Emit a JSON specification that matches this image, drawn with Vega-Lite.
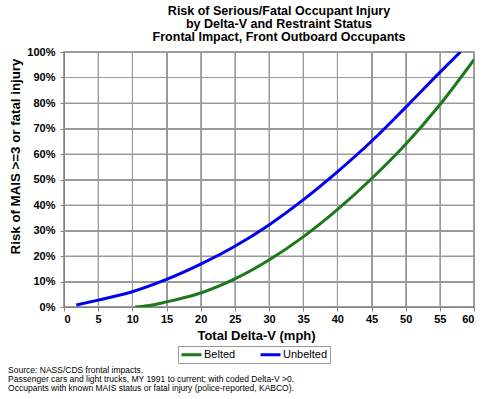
{
  "$schema": "https://vega.github.io/schema/vega-lite/v6.json",
  "padding": {"left": 8, "top": 4, "right": 10, "bottom": 2},
  "background": "white",
  "title": {
    "text": ["Source: NASS/CDS frontal impacts.", "Passenger cars and light trucks, MY 1991 to current; with coded Delta-V >0.", "Occupants with known MAIS status or fatal injury (police-reported, KABCO)."],
    "orient": "bottom",
    "anchor": "start",
    "font": "Liberation Sans",
    "fontSize": 8.5,
    "fontWeight": "normal",
    "lineHeight": 9,
    "color": "#000000",
    "offset": 2
  },
  "datasets": {
    "curves": [
      {"series": "Belted", "dv": 10.4, "risk": 0.0},
      {"series": "Belted", "dv": 12.5, "risk": 0.006},
      {"series": "Belted", "dv": 15, "risk": 0.02},
      {"series": "Belted", "dv": 17.5, "risk": 0.036},
      {"series": "Belted", "dv": 20, "risk": 0.055},
      {"series": "Belted", "dv": 25, "risk": 0.11},
      {"series": "Belted", "dv": 30, "risk": 0.184},
      {"series": "Belted", "dv": 35, "risk": 0.275},
      {"series": "Belted", "dv": 40, "risk": 0.382},
      {"series": "Belted", "dv": 45, "risk": 0.503},
      {"series": "Belted", "dv": 50, "risk": 0.638},
      {"series": "Belted", "dv": 55, "risk": 0.793},
      {"series": "Belted", "dv": 60, "risk": 0.97},
      {"series": "Unbelted", "dv": 1.8, "risk": 0.008},
      {"series": "Unbelted", "dv": 5, "risk": 0.027},
      {"series": "Unbelted", "dv": 10, "risk": 0.06},
      {"series": "Unbelted", "dv": 15, "risk": 0.108},
      {"series": "Unbelted", "dv": 20, "risk": 0.168},
      {"series": "Unbelted", "dv": 25, "risk": 0.238},
      {"series": "Unbelted", "dv": 30, "risk": 0.322},
      {"series": "Unbelted", "dv": 35, "risk": 0.42},
      {"series": "Unbelted", "dv": 40, "risk": 0.53},
      {"series": "Unbelted", "dv": 45, "risk": 0.65},
      {"series": "Unbelted", "dv": 50, "risk": 0.783},
      {"series": "Unbelted", "dv": 55, "risk": 0.92},
      {"series": "Unbelted", "dv": 58, "risk": 1.0}
    ],
    "xgrid": [{"dv": 5}, {"dv": 10}, {"dv": 15}, {"dv": 20}, {"dv": 25}, {"dv": 30}, {"dv": 35}, {"dv": 40}, {"dv": 45}, {"dv": 50}, {"dv": 55}],
    "ygrid": [{"risk": 0.1}, {"risk": 0.2}, {"risk": 0.3}, {"risk": 0.4}, {"risk": 0.5}, {"risk": 0.6}, {"risk": 0.7}, {"risk": 0.8}, {"risk": 0.9}]
  },
  "vconcat": [
    {
      "title": {
        "text": ["Risk of Serious/Fatal Occupant Injury", "by Delta-V and Restraint Status", "Frontal Impact, Front Outboard Occupants"],
        "font": "Liberation Sans",
        "fontSize": 12.5,
        "fontWeight": "bold",
        "lineHeight": 13.3,
        "anchor": "middle",
        "color": "#000000",
        "offset": 2,
        "dx": 10
      },
      "width": 410,
      "height": 255,
      "layer": [
        {
          "data": {"name": "xgrid"},
          "mark": {"type": "rule", "color": "#9a9a9a", "strokeWidth": 1},
          "encoding": {
            "x": {
              "field": "dv",
              "type": "quantitative",
              "scale": {"domain": [0, 60], "nice": false},
              "axis": {
                "title": "Total Delta-V (mph)",
                "grid": true,
                "tickCount": 12,
                "titleX": 192,
                "labelPadding": 2
              }
            }
          }
        },
        {
          "data": {"name": "ygrid"},
          "mark": {"type": "rule", "color": "#9a9a9a", "strokeWidth": 1},
          "encoding": {
            "y": {
              "field": "risk",
              "type": "quantitative",
              "scale": {"domain": [0, 1], "nice": false},
              "axis": {
                "title": "Risk of MAIS >=3 or fatal injury",
                "grid": true,
                "format": ".0%",
                "tickCount": 10,
                "titleY": 104,
                "titleFontSize": 13.3,
                "titlePadding": 4,
                "labelPadding": 5
              }
            }
          }
        },
        {
          "data": {"name": "curves"},
          "mark": {"type": "line", "strokeWidth": 3, "interpolate": "monotone", "clip": true},
          "encoding": {
            "x": {
              "field": "dv",
              "type": "quantitative",
              "scale": {"domain": [0, 60], "nice": false},
              "axis": {
                "title": "Total Delta-V (mph)",
                "grid": true,
                "tickCount": 12,
                "titleX": 192,
                "labelPadding": 2
              }
            },
            "y": {
              "field": "risk",
              "type": "quantitative",
              "scale": {"domain": [0, 1], "nice": false},
              "axis": {
                "title": "Risk of MAIS >=3 or fatal injury",
                "grid": true,
                "format": ".0%",
                "tickCount": 10,
                "titleY": 104,
                "titleFontSize": 13.3,
                "titlePadding": 4,
                "labelPadding": 5
              }
            },
            "color": {
              "field": "series",
              "type": "nominal",
              "scale": {"domain": ["Belted", "Unbelted"], "range": ["#1A7A1A", "#0000F0"]},
              "legend": {
                "title": null,
                "orient": "none",
                "legendX": 114,
                "legendY": 294,
                "direction": "horizontal",
                "symbolType": "M-1,0H3",
                "symbolStrokeWidth": 3,
                "symbolSize": 100,
                "labelFont": "Liberation Sans",
                "labelFontSize": 11,
                "labelColor": "#000000",
                "labelOffset": 11,
                "columnPadding": 18,
                "padding": 2,
                "strokeColor": "#999999",
                "fillColor": "white"
              }
            }
          }
        }
      ]
    }
  ],
  "config": {
    "view": {"stroke": "#808080", "strokeWidth": 1.5},
    "axis": {
      "labelFont": "Liberation Sans",
      "labelFontSize": 11,
      "labelFontWeight": "bold",
      "labelColor": "#000000",
      "titleFont": "Liberation Sans",
      "titleFontSize": 13,
      "titleFontWeight": "bold",
      "titleColor": "#000000",
      "domainColor": "#808080",
      "tickColor": "#808080",
      "tickSize": 4,
      "gridColor": "#9a9a9a",
      "gridOpacity": 1
    },
    "axisX": {"titlePadding": 5}
  }
}
